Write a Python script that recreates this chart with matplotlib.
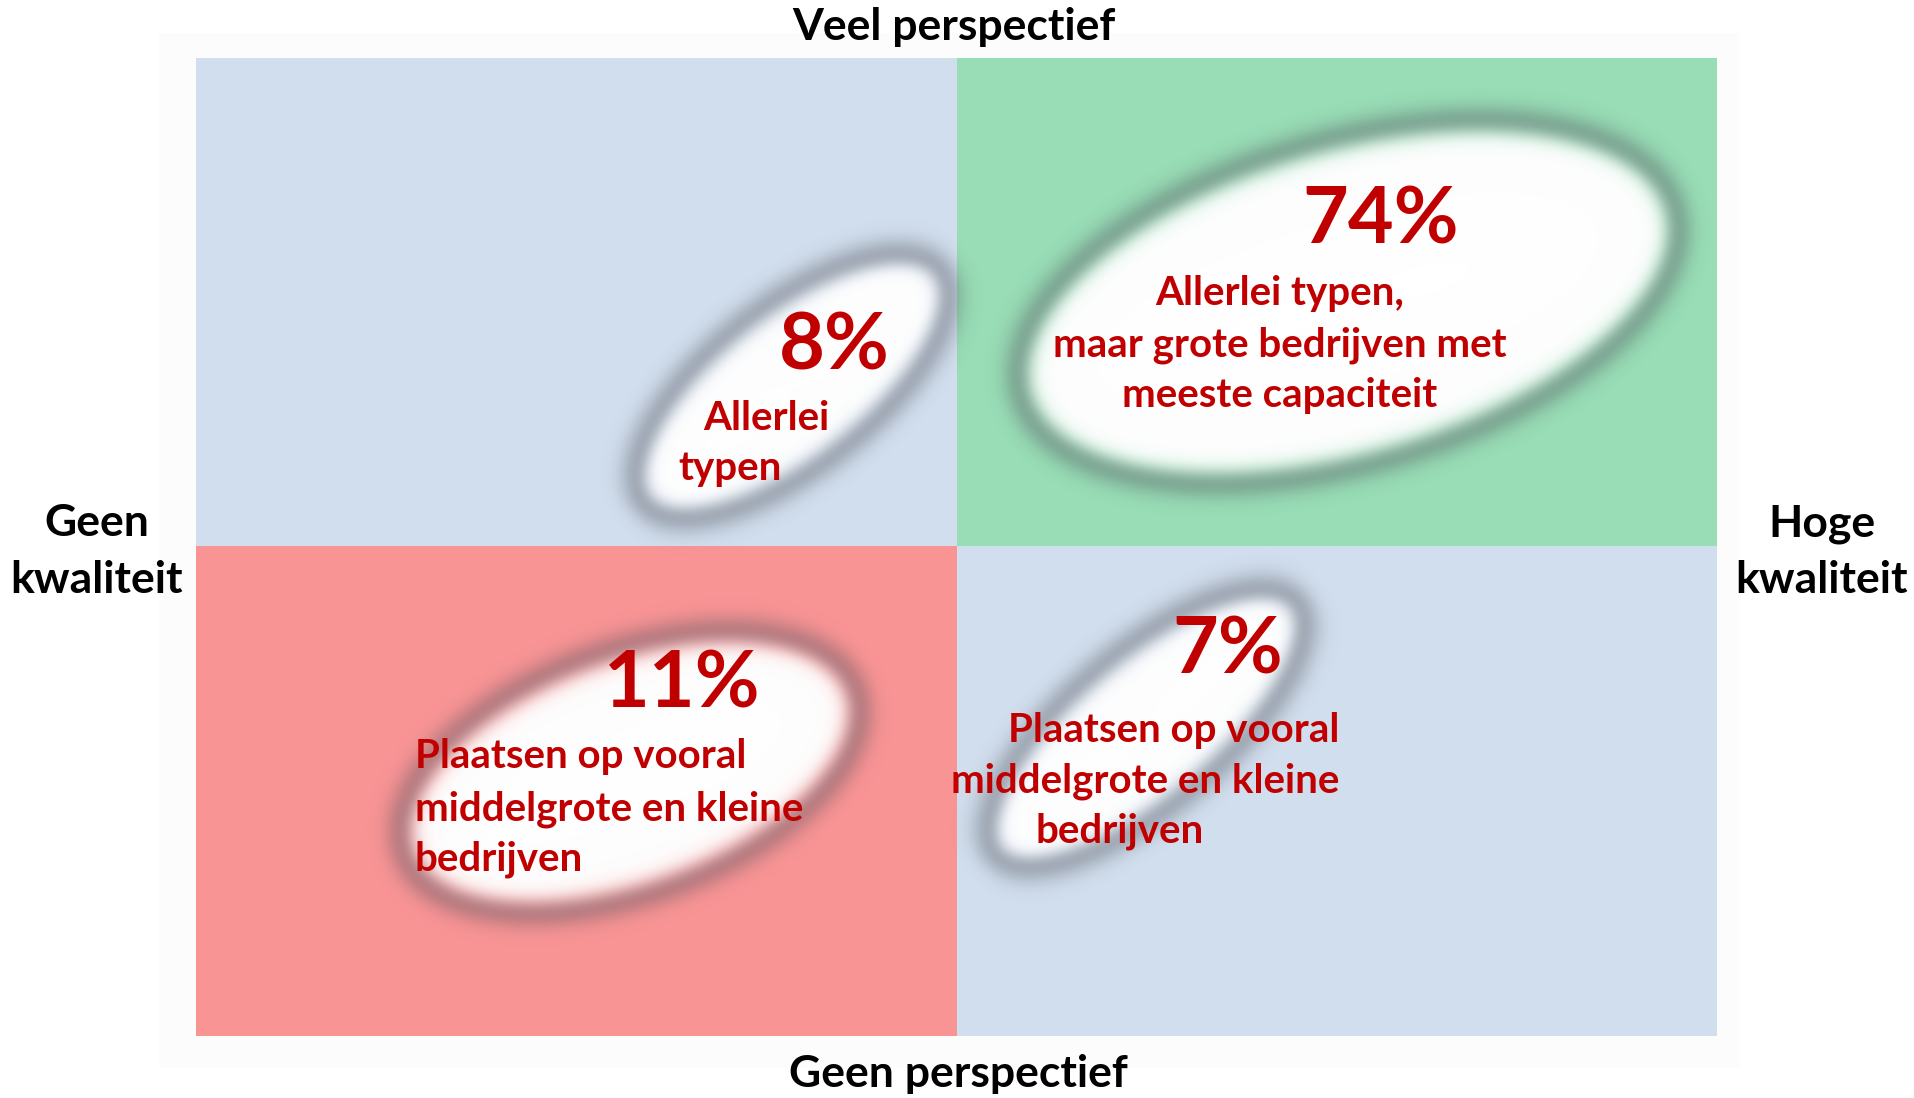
import numpy as np
import matplotlib
matplotlib.use("Agg")
import matplotlib.pyplot as plt
from matplotlib.patches import Rectangle

plt.rcParams['font.family'] = ['Lato', 'DejaVu Sans']

# --- data ---
axis_top = "Veel perspectief"
axis_bottom = "Geen perspectief"
axis_left = ["Geen", "kwaliteit"]
axis_right = ["Hoge", "kwaliteit"]

pct_values = [8, 74, 11, 7]
pct_labels = [f"{v}%" for v in pct_values]
descriptions = [
    ["Allerlei", "typen"],
    ["Allerlei typen,", "maar grote bedrijven met", "meeste capaciteit"],
    ["Plaatsen op vooral", "middelgrote en kleine", "bedrijven"],
    ["Plaatsen op vooral", "middelgrote en kleine", "bedrijven"],
]

# --- layout (pixel coords, y down) ---
W, H = 1915, 1098
x0, xm, x1 = 196, 957, 1717
y0, ym, y1 = 58, 546, 1036
quad_colors = {"tl": "#D1DEED", "tr": "#98DDB6", "bl": "#F99495", "br": "#D1DEED"}

# ellipse: cx, cy, semi-major, semi-minor, angle (deg, up-right)
ellipses = [
    (792, 386, 188, 80, 38),
    (1348, 302, 340, 162, 16),
    (630, 772, 240, 122, 20),
    (1146, 728, 196, 76, 40),
]
pct_pos = [(779, 369, "left"), (1302, 243, "left"), (604, 707, "left"), (1172, 673, "left")]
desc_pos = [
    [(703, 430, "left"), (678, 480, "left")],
    [(1280, 305, "center"), (1280, 357, "center"), (1280, 407, "center")],
    [(415, 768, "left"), (415, 820, "left"), (415, 870, "left")],
    [(1008, 742, "left"), (951, 792, "left"), (1036, 843, "left")],
]
red = "#C00000"

fig = plt.figure(figsize=(W / 100, H / 100), dpi=100)
ax = fig.add_axes([0, 0, 1, 1])
ax.set_xlim(0, W)
ax.set_ylim(H, 0)
ax.axis("off")

# faint frame behind the grid
ax.add_patch(Rectangle((159, 33), 1740 - 159, 1068 - 33, color="#FCFCFC", lw=0, zorder=0))

ax.add_patch(Rectangle((x0, y0), xm - x0, ym - y0, color=quad_colors["tl"], lw=0, zorder=1))
ax.add_patch(Rectangle((xm, y0), x1 - xm, ym - y0, color=quad_colors["tr"], lw=0, zorder=1))
ax.add_patch(Rectangle((x0, ym), xm - x0, y1 - ym, color=quad_colors["bl"], lw=0, zorder=1))
ax.add_patch(Rectangle((xm, ym), x1 - xm, y1 - ym, color=quad_colors["br"], lw=0, zorder=1))


def soft_ellipse(cx, cy, a, b, ang):
    pad = 50
    r = a + pad
    xs = np.arange(int(cx - r), int(cx + r)) + 0.5
    ys = np.arange(int(cy - r), int(cy + r)) + 0.5
    X, Y = np.meshgrid(xs, ys)
    t = np.radians(ang)
    dx, dy = X - cx, Y - cy
    u = dx * np.cos(t) - dy * np.sin(t)
    v = dx * np.sin(t) + dy * np.cos(t)
    d = np.sqrt((u / a) ** 2 + (v / b) ** 2)
    g = np.sqrt((u / a ** 2) ** 2 + (v / b ** 2) ** 2) / np.maximum(d, 1e-6)
    s = (d - 1) / np.maximum(g, 1e-6)  # approx signed distance in px
    aw = 1 / (1 + np.exp((s + 14) / 5.5))
    ash = 0.38 * np.exp(-((s + 1) ** 2) / (2 * 11.5 ** 2))
    at = aw + ash * (1 - aw)
    gray = np.array([70, 72, 82]) / 255
    rgb = (aw[..., None] * 1.0 + (ash * (1 - aw))[..., None] * gray) / np.maximum(at, 1e-6)[..., None]
    img = np.dstack([rgb, at])
    ax.imshow(img, extent=(xs[0] - 0.5, xs[-1] + 0.5, ys[-1] + 0.5, ys[0] - 0.5),
              interpolation="bilinear", zorder=2)


for e in ellipses:
    soft_ellipse(*e)
ax.set_xlim(0, W)
ax.set_ylim(H, 0)

for lab, (x, y, ha) in zip(pct_labels, pct_pos):
    ax.text(x, y, lab, color=red, fontsize=57, fontweight="bold", ha=ha, va="baseline", zorder=5)
for lines, poss in zip(descriptions, desc_pos):
    for line, (x, y, ha) in zip(lines, poss):
        ax.text(x, y, line, color=red, fontsize=29, fontweight="bold", ha=ha, va="baseline", zorder=5)

ax.text(954, 40, axis_top, fontsize=32, fontweight="bold", ha="center", va="baseline", color="black")
ax.text(958, 1087, axis_bottom, fontsize=32, fontweight="bold", ha="center", va="baseline", color="black")
for i, line in enumerate(axis_left):
    ax.text(97, 536 + 57 * i, line, fontsize=32, fontweight="bold", ha="center", va="baseline", color="black")
for i, line in enumerate(axis_right):
    ax.text(1822, 536 + 57 * i, line, fontsize=32, fontweight="bold", ha="center", va="baseline", color="black")

fig.savefig("out.png", dpi=100)
